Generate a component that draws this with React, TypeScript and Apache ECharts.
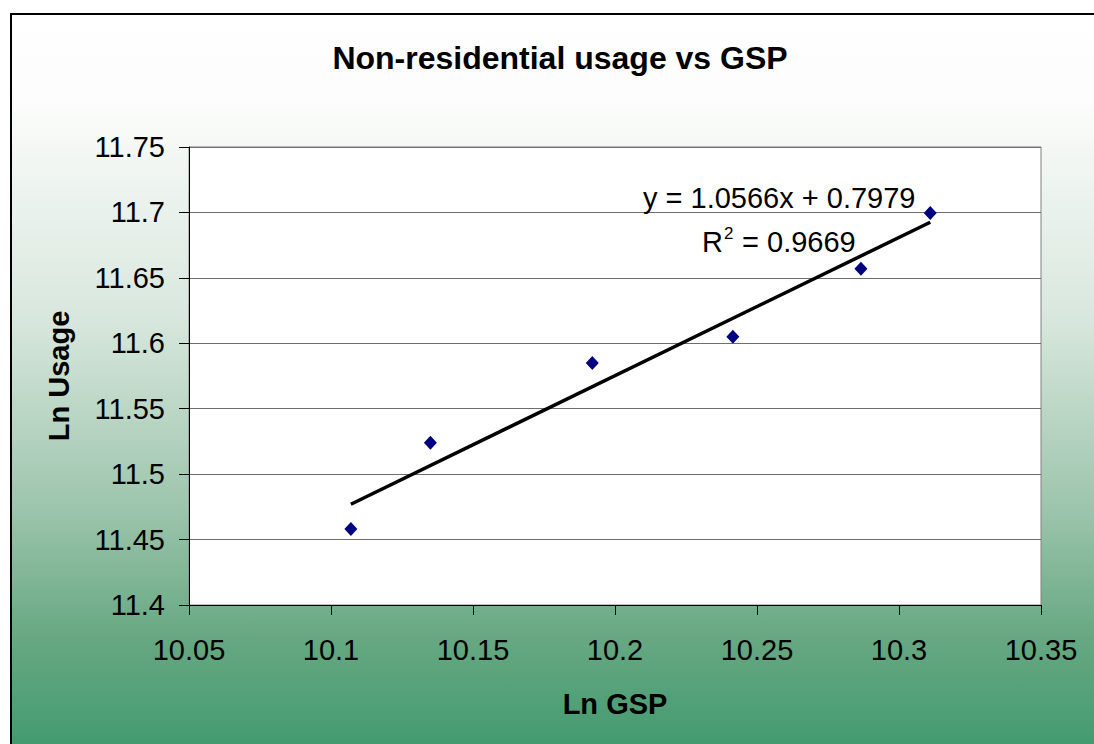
import React, { useEffect, useRef } from "react";
import * as echarts from "echarts";

const TITLE = "Non-residential usage vs GSP";
const X_NAME = "Ln GSP";
const Y_NAME = "Ln Usage";
const lnGSP = [10.107, 10.135, 10.192, 10.2415, 10.2866, 10.311];
const lnUsage = [11.458, 11.524, 11.585, 11.605, 11.657, 11.6995];
const trendX = [10.107, 10.311];
const trendY = [11.477, 11.6925];
const EQUATION = "y = 1.0566x + 0.7979";
const R2_VALUE = "0.9669";

export default function App() {
  const ref = useRef<HTMLDivElement>(null);
  useEffect(() => {
    if (!ref.current) return;
    const chart = echarts.init(ref.current, undefined, { renderer: "svg" });
    const font = "'Liberation Sans', Arial, sans-serif";
    chart.setOption({
      animation: false,
      textStyle: { fontFamily: font },
      title: {
        text: TITLE,
        left: 555,
        top: 37,
        textAlign: "center",
        textStyle: { fontSize: 32, fontWeight: "bold", color: "#000", fontFamily: font },
      },
      graphic: [
        {
          type: "rect",
          z: -10,
          zlevel: 0,
          silent: true,
          shape: { x: 11, y: 14, width: 1100, height: 760 },
          style: {
            fill: new echarts.graphic.LinearGradient(0, 0, 0, 1, [
              { offset: 0, color: "#ffffff" },
              { offset: 0.12, color: "#fbfcfb" },
              { offset: 0.4, color: "#d8e7dd" },
              { offset: 0.65, color: "#9dc5ad" },
              { offset: 0.82, color: "#67a882" },
              { offset: 1, color: "#3a976a" },
            ]),
            stroke: "#000",
            lineWidth: 2,
          },
        },
        {
          type: "text",
          z: 10,
          left: 643,
          top: 183,
          style: { text: EQUATION, fontSize: 29, fill: "#000", fontFamily: font },
        },
        {
          type: "text",
          z: 10,
          left: 702,
          top: 227,
          style: { text: "R", fontSize: 29, fill: "#000", fontFamily: font },
        },
        {
          type: "text",
          z: 10,
          left: 724,
          top: 225,
          style: { text: "2", fontSize: 17, fill: "#000", fontFamily: font },
        },
        {
          type: "text",
          z: 10,
          left: 734,
          top: 227,
          style: { text: " = " + R2_VALUE, fontSize: 29, fill: "#000", fontFamily: font },
        },
      ],
      grid: {
        left: 189,
        top: 147,
        right: 53,
        bottom: 139,
        show: true,
        backgroundColor: "#ffffff",
        borderColor: "#808080",
        borderWidth: 1,
      },
      xAxis: {
        type: "value",
        min: 10.05,
        max: 10.35,
        interval: 0.05,
        name: X_NAME,
        nameLocation: "middle",
        nameGap: 84,
        nameTextStyle: { fontSize: 29, fontWeight: "bold", color: "#000", fontFamily: font },
        axisLine: { show: true, lineStyle: { color: "#000", width: 1 } },
        axisTick: { show: true, inside: false, length: 10, lineStyle: { color: "#000" } },
        axisLabel: {
          fontSize: 29,
          color: "#000",
          margin: 30,
          fontFamily: font,
          formatter: (v: number) => String(Math.round(v * 100) / 100),
        },
        splitLine: { show: false },
      },
      yAxis: {
        type: "value",
        min: 11.4,
        max: 11.75,
        interval: 0.05,
        name: Y_NAME,
        nameLocation: "middle",
        nameGap: 116,
        nameRotate: 90,
        nameTextStyle: { fontSize: 29, fontWeight: "bold", color: "#000", fontFamily: font },
        axisLine: { show: true, lineStyle: { color: "#000", width: 1 } },
        axisTick: { show: true, inside: false, length: 10, lineStyle: { color: "#000" } },
        axisLabel: {
          fontSize: 29,
          color: "#000",
          margin: 24,
          fontFamily: font,
          formatter: (v: number) => String(Math.round(v * 100) / 100),
        },
        splitLine: { show: true, lineStyle: { color: "#6e6e6e", width: 1 } },
      },
      series: [
        {
          type: "line",
          data: trendX.map((x, i) => [x, trendY[i]]),
          symbol: "none",
          lineStyle: { color: "#000", width: 3.5 },
          z: 3,
          silent: true,
        },
        {
          type: "scatter",
          data: lnGSP.map((x, i) => [x, lnUsage[i]]),
          symbol: "diamond",
          symbolSize: [13, 14],
          itemStyle: { color: "#000080", opacity: 1 },
          z: 4,
        },
      ],
    });
    return () => chart.dispose();
  }, []);
  return (
    <div
      ref={ref}
      style={{ position: "absolute", left: 0, top: 0, width: 1094, height: 744 }}
    />
  );
}
